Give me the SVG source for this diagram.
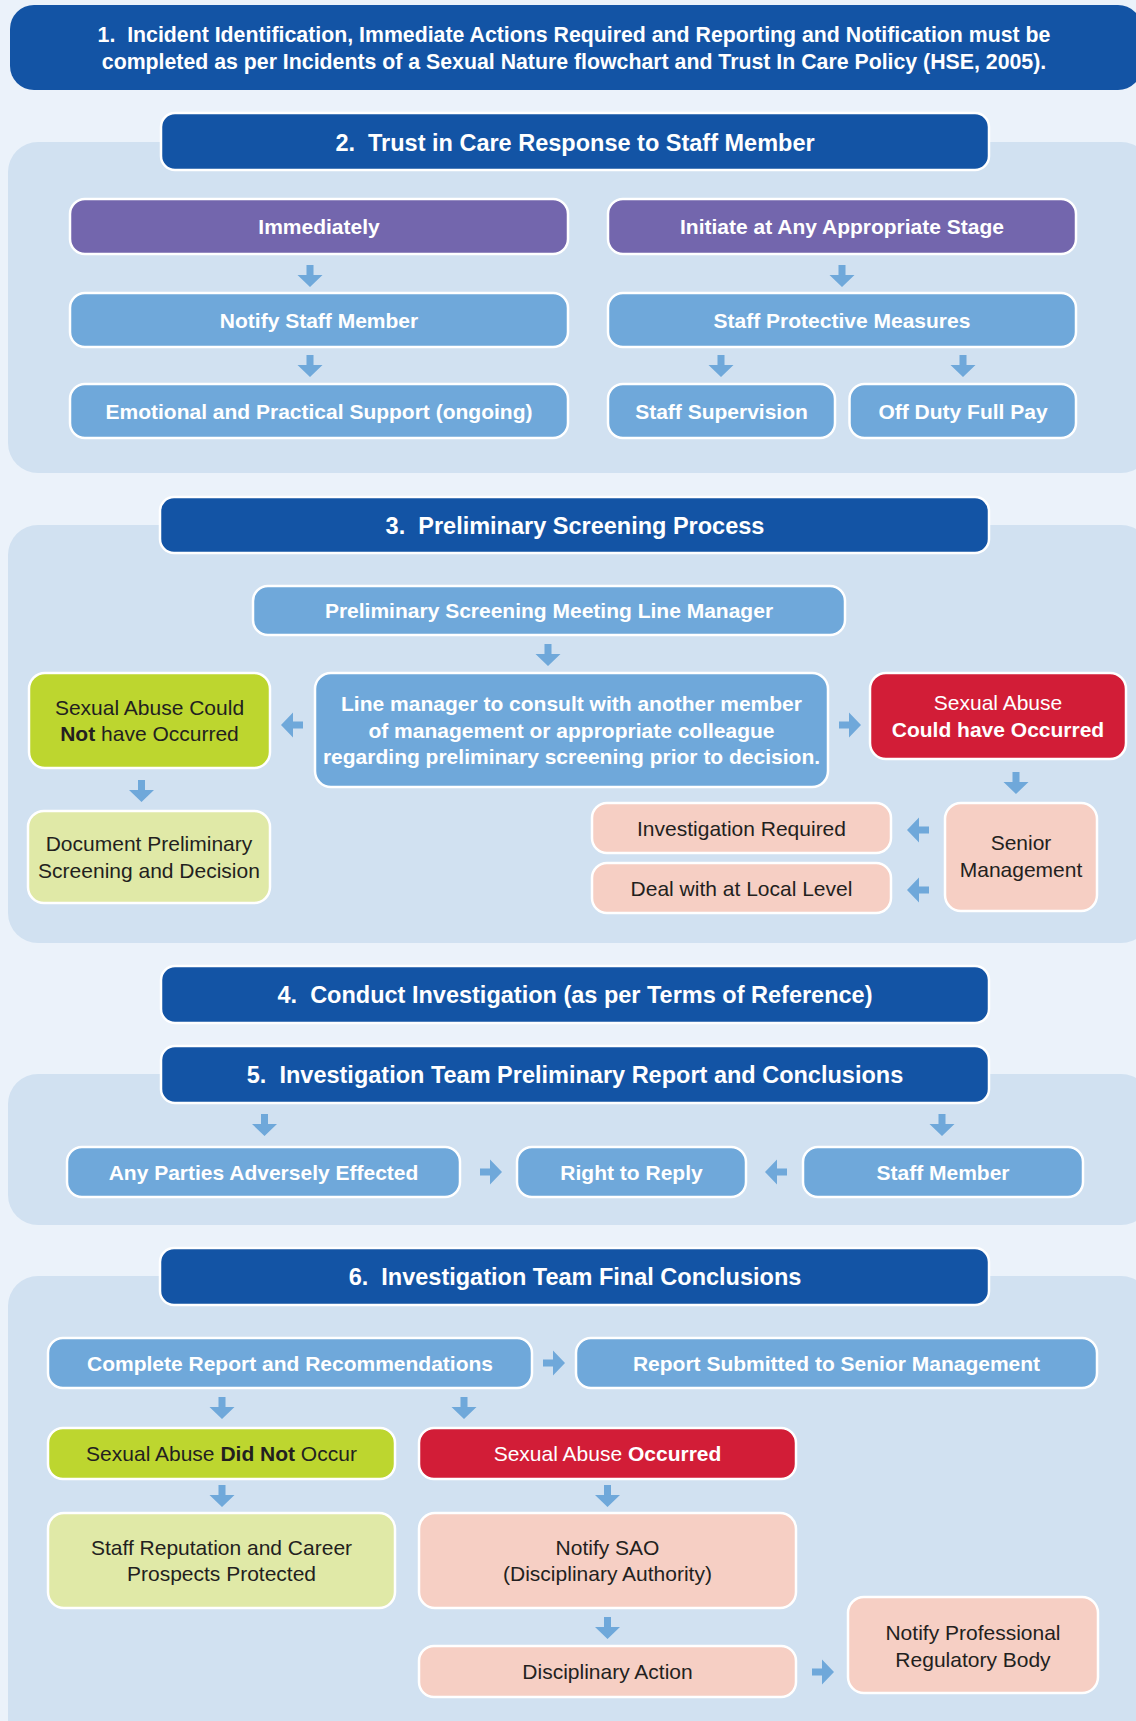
<svg xmlns="http://www.w3.org/2000/svg" xmlns:xlink="http://www.w3.org/1999/xlink" width="1136" height="1721" viewBox="0 0 1136 1721">
  <style>
    text { font-family: "Liberation Sans", Arial, Helvetica, sans-serif; text-anchor: middle; }
    .panel { fill: #D1E1F1; }
    .hdr { fill: #1354A5; stroke: #FFFFFF; stroke-width: 2.5; }
    .hdr-t { fill: #FFFFFF; font-size: 23.5px; font-weight: bold; }
    .box { stroke: #FFFFFF; stroke-width: 2.5; }
    .blue { fill: #6FA8DA; }
    .purple { fill: #7366AD; }
    .lime { fill: #BDD62F; }
    .pale { fill: #E0E9A7; }
    .red { fill: #D21D37; }
    .pink { fill: #F6CFC4; }
    .wb { fill: #FFFFFF; font-size: 21px; font-weight: bold; }
    .lead { fill: #FFFFFF; font-size: 21.3px; font-weight: bold; }
    .wr { fill: #FFFFFF; font-size: 21px; }
    .dr { fill: #231F20; font-size: 21px; }
    .arrow { fill: #6FA8DA; }
  </style>
  <defs>
    <!-- block arrow pointing down, tail at origin, tip at (0,22) -->
    <path id="arw" d="M-3.5,0 H3.5 V10 H12.5 L0,22 L-12.5,10 H-3.5 Z"/>
  </defs>

  <!-- page background -->
  <rect x="0" y="0" width="1136" height="1721" fill="#EBF2FA"/>

  <!-- section panels -->
  <g id="panels">
    <rect class="panel" x="8" y="142" width="1143" height="331" rx="30"/>
    <rect class="panel" x="8" y="525" width="1143" height="418" rx="30"/>
    <rect class="panel" x="8" y="1074" width="1143" height="151" rx="30"/>
    <rect class="panel" x="8" y="1276" width="1143" height="480" rx="30"/>
  </g>

  <!-- step 1 -->
  <g id="step1">
    <rect x="10" y="5" width="1132" height="85" rx="24" fill="#1354A5"/>
    <text class="lead" x="574" y="42">1.&#160; Incident Identification, Immediate Actions Required and Reporting and Notification must be</text>
    <text class="lead" x="574" y="68.5">completed as per Incidents of a Sexual Nature flowchart and Trust In Care Policy (HSE, 2005).</text>
  </g>

  <!-- step 2 -->
  <g id="step2">
    <rect class="hdr" x="161" y="113" width="828" height="57" rx="14"/>
    <text class="hdr-t" x="575" y="150.5">2.&#160; Trust in Care Response to Staff Member</text>
  </g>
  <g id="immediately">
    <rect class="box purple" x="70" y="199" width="498" height="55" rx="15"/>
    <text class="wb" x="319" y="234">Immediately</text>
  </g>
  <g id="notify-staff">
    <rect class="box blue" x="70" y="293" width="498" height="54" rx="15"/>
    <text class="wb" x="319" y="327.5">Notify Staff Member</text>
  </g>
  <g id="support">
    <rect class="box blue" x="70" y="384" width="498" height="54" rx="15"/>
    <text class="wb" x="319" y="418.5">Emotional and Practical Support (ongoing)</text>
  </g>
  <g id="initiate">
    <rect class="box purple" x="608" y="199" width="468" height="55" rx="15"/>
    <text class="wb" x="842" y="234">Initiate at Any Appropriate Stage</text>
  </g>
  <g id="protective">
    <rect class="box blue" x="608" y="293" width="468" height="54" rx="15"/>
    <text class="wb" x="842" y="327.5">Staff Protective Measures</text>
  </g>
  <g id="supervision">
    <rect class="box blue" x="608" y="384" width="227" height="54" rx="15"/>
    <text class="wb" x="721.5" y="418.5">Staff Supervision</text>
  </g>
  <g id="off-duty">
    <rect class="box blue" x="849.5" y="384" width="226.5" height="54" rx="15"/>
    <text class="wb" x="963" y="418.5">Off Duty Full Pay</text>
  </g>

  <!-- step 3 -->
  <g id="step3">
    <rect class="hdr" x="160" y="497" width="829" height="56" rx="14"/>
    <text class="hdr-t" x="575" y="533.5">3.&#160; Preliminary Screening Process</text>
  </g>
  <g id="screening-meeting">
    <rect class="box blue" x="253" y="586" width="592" height="49" rx="15"/>
    <text class="wb" x="549" y="618">Preliminary Screening Meeting Line Manager</text>
  </g>
  <g id="consult">
    <rect class="box blue" x="315" y="673" width="513" height="114" rx="16"/>
    <text class="wb" x="571.5" y="711">Line manager to consult with another member</text>
    <text class="wb" x="571.5" y="737.5">of management or appropriate colleague</text>
    <text class="wb" x="571.5" y="764">regarding preliminary screening prior to decision.</text>
  </g>
  <g id="could-not">
    <rect class="box lime" x="29" y="673" width="241" height="95" rx="16"/>
    <text class="dr" x="149.5" y="715">Sexual Abuse Could</text>
    <text class="dr" x="149.5" y="741"><tspan font-weight="bold">Not</tspan> have Occurred</text>
  </g>
  <g id="document">
    <rect class="box pale" x="28" y="811" width="242" height="92" rx="16"/>
    <text class="dr" x="149" y="851">Document Preliminary</text>
    <text class="dr" x="149" y="877.5">Screening and Decision</text>
  </g>
  <g id="could-have">
    <rect class="box red" x="870" y="673" width="256" height="86" rx="16"/>
    <text class="wr" x="998" y="710">Sexual Abuse</text>
    <text class="wb" x="998" y="737">Could have Occurred</text>
  </g>
  <g id="senior-mgmt">
    <rect class="box pink" x="945" y="803" width="152" height="108" rx="16"/>
    <text class="dr" x="1021" y="850">Senior</text>
    <text class="dr" x="1021" y="877">Management</text>
  </g>
  <g id="investigation-required">
    <rect class="box pink" x="592" y="803" width="299" height="50" rx="15"/>
    <text class="dr" x="741.5" y="835.5">Investigation Required</text>
  </g>
  <g id="local-level">
    <rect class="box pink" x="592" y="863" width="299" height="50" rx="15"/>
    <text class="dr" x="741.5" y="895.5">Deal with at Local Level</text>
  </g>

  <!-- step 4 -->
  <g id="step4">
    <rect class="hdr" x="161" y="966" width="828" height="57" rx="14"/>
    <text class="hdr-t" x="575" y="1003">4.&#160; Conduct Investigation (as per Terms of Reference)</text>
  </g>

  <!-- step 5 -->
  <g id="step5">
    <rect class="hdr" x="161" y="1046" width="828" height="57" rx="14"/>
    <text class="hdr-t" x="575" y="1083">5.&#160; Investigation Team Preliminary Report and Conclusions</text>
  </g>
  <g id="parties">
    <rect class="box blue" x="67" y="1147" width="393" height="50" rx="15"/>
    <text class="wb" x="263.5" y="1179.5">Any Parties Adversely Effected</text>
  </g>
  <g id="right-to-reply">
    <rect class="box blue" x="517" y="1147" width="229" height="50" rx="15"/>
    <text class="wb" x="631.5" y="1179.5">Right to Reply</text>
  </g>
  <g id="staff-member">
    <rect class="box blue" x="803" y="1147" width="280" height="50" rx="15"/>
    <text class="wb" x="943" y="1179.5">Staff Member</text>
  </g>

  <!-- step 6 -->
  <g id="step6">
    <rect class="hdr" x="160" y="1248" width="829" height="57" rx="14"/>
    <text class="hdr-t" x="575" y="1285">6.&#160; Investigation Team Final Conclusions</text>
  </g>
  <g id="complete-report">
    <rect class="box blue" x="48" y="1338" width="484" height="50" rx="15"/>
    <text class="wb" x="290" y="1370.5">Complete Report and Recommendations</text>
  </g>
  <g id="report-submitted">
    <rect class="box blue" x="576" y="1338" width="521" height="50" rx="15"/>
    <text class="wb" x="836.5" y="1370.5">Report Submitted to Senior Management</text>
  </g>
  <g id="did-not-occur">
    <rect class="box lime" x="48" y="1428" width="347" height="51" rx="15"/>
    <text class="dr" x="221.5" y="1461">Sexual Abuse <tspan font-weight="bold">Did Not</tspan> Occur</text>
  </g>
  <g id="occurred">
    <rect class="box red" x="419" y="1428" width="377" height="51" rx="15"/>
    <text class="wr" x="607.5" y="1461">Sexual Abuse <tspan font-weight="bold">Occurred</tspan></text>
  </g>
  <g id="reputation">
    <rect class="box pale" x="48" y="1513" width="347" height="95" rx="16"/>
    <text class="dr" x="221.5" y="1554.5">Staff Reputation and Career</text>
    <text class="dr" x="221.5" y="1581">Prospects Protected</text>
  </g>
  <g id="notify-sao">
    <rect class="box pink" x="419" y="1513" width="377" height="95" rx="16"/>
    <text class="dr" x="607.5" y="1554.5">Notify SAO</text>
    <text class="dr" x="607.5" y="1581">(Disciplinary Authority)</text>
  </g>
  <g id="disciplinary-action">
    <rect class="box pink" x="419" y="1646" width="377" height="51" rx="15"/>
    <text class="dr" x="607.5" y="1679">Disciplinary Action</text>
  </g>
  <g id="regulatory-body">
    <rect class="box pink" x="848" y="1597" width="250" height="96" rx="16"/>
    <text class="dr" x="973" y="1640">Notify Professional</text>
    <text class="dr" x="973" y="1666.5">Regulatory Body</text>
  </g>

  <!-- connectors -->
  <g id="connectors" class="arrow">
    <use href="#arw" transform="translate(310,265)"/>
    <use href="#arw" transform="translate(310,355)"/>
    <use href="#arw" transform="translate(842,265)"/>
    <use href="#arw" transform="translate(721,355)"/>
    <use href="#arw" transform="translate(963,355)"/>
    <use href="#arw" transform="translate(548,644)"/>
    <use href="#arw" transform="translate(303,725) rotate(90)"/>
    <use href="#arw" transform="translate(839,725) rotate(-90)"/>
    <use href="#arw" transform="translate(141.5,780)"/>
    <use href="#arw" transform="translate(1016,772)"/>
    <use href="#arw" transform="translate(929,830) rotate(90)"/>
    <use href="#arw" transform="translate(929,890) rotate(90)"/>
    <use href="#arw" transform="translate(264.5,1114)"/>
    <use href="#arw" transform="translate(942,1114)"/>
    <use href="#arw" transform="translate(480,1172) rotate(-90)"/>
    <use href="#arw" transform="translate(787,1172) rotate(90)"/>
    <use href="#arw" transform="translate(543,1363) rotate(-90)"/>
    <use href="#arw" transform="translate(222,1397)"/>
    <use href="#arw" transform="translate(464,1397)"/>
    <use href="#arw" transform="translate(222,1485)"/>
    <use href="#arw" transform="translate(607.5,1485)"/>
    <use href="#arw" transform="translate(607.5,1617)"/>
    <use href="#arw" transform="translate(812,1672) rotate(-90)"/>
  </g>
</svg>
